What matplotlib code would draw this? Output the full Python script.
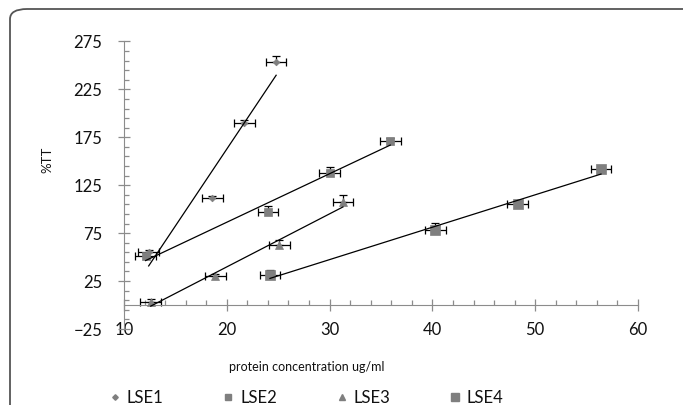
import numpy as np
import matplotlib
matplotlib.use("Agg")
import matplotlib.pyplot as plt
from matplotlib.patches import FancyBboxPatch
from matplotlib.lines import Line2D

plt.rcParams['font.family'] = ['Lato', 'DejaVu Sans']

# ---- data ----
series_names = ["LSE1", "LSE2", "LSE3", "LSE4"]
lse1_x = [12.4, 18.6, 21.7, 24.8]
lse1_y = [55, 112, 190, 254]
lse1_yerr = [2, 2, 3, 6]
lse2_x = [12.1, 24.0, 30.0, 35.9]
lse2_y = [51, 97, 138, 171]
lse2_yerr = [3, 6, 6, 3]
lse3_x = [12.6, 18.9, 25.1, 31.3]
lse3_y = [3, 30, 63, 107]
lse3_yerr = [3, 2, 5, 8]
lse4_x = [24.2, 40.3, 48.3, 56.4]
lse4_y = [31, 78, 105, 142]
lse4_yerr = [6, 8, 3, 3]
x_err = 1.0
x_ticks = [10, 20, 30, 40, 50, 60]
y_ticks = [-25, 25, 75, 125, 175, 225, 275]
x_label = "protein concentration ug/ml"
y_label = "%TT"

W, H = 683, 405
fig = plt.figure(figsize=(W / 100, H / 100), dpi=100)
ax = fig.add_axes([124 / W, (H - 329) / H, 514 / W, 287.5 / H])

gray = '#7f7f7f'
axis_col = '#8c8c8c'
txt_col = '#111111'
styles = [
    dict(marker='D', ms=3.4),
    dict(marker='s', ms=6.0),
    dict(marker='^', ms=6.0),
    dict(marker='s', ms=7.4),
]
data = [(lse1_x, lse1_y, lse1_yerr), (lse2_x, lse2_y, lse2_yerr),
        (lse3_x, lse3_y, lse3_yerr), (lse4_x, lse4_y, lse4_yerr)]

for (xs, ys, ye), st in zip(data, styles):
    xs = np.array(xs, dtype=float); ys = np.array(ys, dtype=float); ye = np.array(ye, dtype=float)
    ax.errorbar(xs, ys, xerr=x_err, yerr=[np.zeros_like(ye), ye],
                fmt='none', ecolor='black', elinewidth=0.9, capsize=3, capthick=0.9, zorder=2)
    ax.plot(xs, ys, linestyle='none', color=gray, mec=gray, mew=0.5, zorder=3, **st)
    k, b = np.polyfit(xs, ys, 1)
    xx = np.array([xs.min(), xs.max()])
    ax.plot(xx, k * xx + b, color='black', lw=0.9, zorder=4)

ax.set_xlim(10, 60)
ax.set_ylim(-25, 275)

for s in ['top', 'right']:
    ax.spines[s].set_visible(False)
ax.spines['left'].set_color(axis_col)
ax.spines['bottom'].set_color(axis_col)
ax.spines['bottom'].set_position(('data', 0))

ax.set_yticks(y_ticks)
ax.set_yticks(np.arange(-25, 276, 10), minor=True)
ax.set_xticks(x_ticks)
ax.set_xticks(np.arange(10, 61, 2), minor=True)
ax.tick_params(axis='y', which='major', direction='inout', length=9, width=0.9, color=axis_col,
               labelsize=12, labelcolor=txt_col, pad=11)
ax.tick_params(axis='y', which='minor', direction='in', length=3.5, width=0.9, color=axis_col)
ax.tick_params(axis='x', which='major', direction='inout', length=8, width=0.9, color=axis_col,
               labelbottom=False)
ax.tick_params(axis='x', which='minor', direction='in', length=3.5, width=0.9, color=axis_col)

sec = ax.secondary_xaxis('bottom')
sec.set_xticks(x_ticks)
sec.spines['bottom'].set_visible(False)
sec.tick_params(axis='x', which='both', length=0, labelsize=12, labelcolor=txt_col, pad=-5.2)

fig.text(307 / W, 1 - 367 / H, x_label, ha='center', va='center', fontsize=9, color=txt_col)
fig.text(47 / W, 1 - 160 / H, y_label, ha='center', va='center', rotation=90, fontsize=9.5, color=txt_col)

leg_styles = [dict(marker='D', ms=2.8), dict(marker='s', ms=4.2), dict(marker='^', ms=4.4), dict(marker='s', ms=5.6)]
handles = [Line2D([], [], linestyle='none', color=gray, mec=gray, **st) for st in leg_styles]
fig.legend(handles, series_names, ncol=4, loc='center left', bbox_to_anchor=(100 / W, 1 - 398 / H),
           frameon=False, borderpad=0, handlelength=0.8, handletextpad=0.3, columnspacing=3.5,
           fontsize=12, labelcolor=txt_col)

border = FancyBboxPatch((10 / W, -0.1), 1.2, (1 - 9 / H) + 0.1, boxstyle='round,pad=0,rounding_size=0.025',
                        transform=fig.transFigure, fill=False, edgecolor='#555555', lw=1.3, clip_on=False)
fig.patches.append(border)

fig.savefig('out.png', dpi=100)
